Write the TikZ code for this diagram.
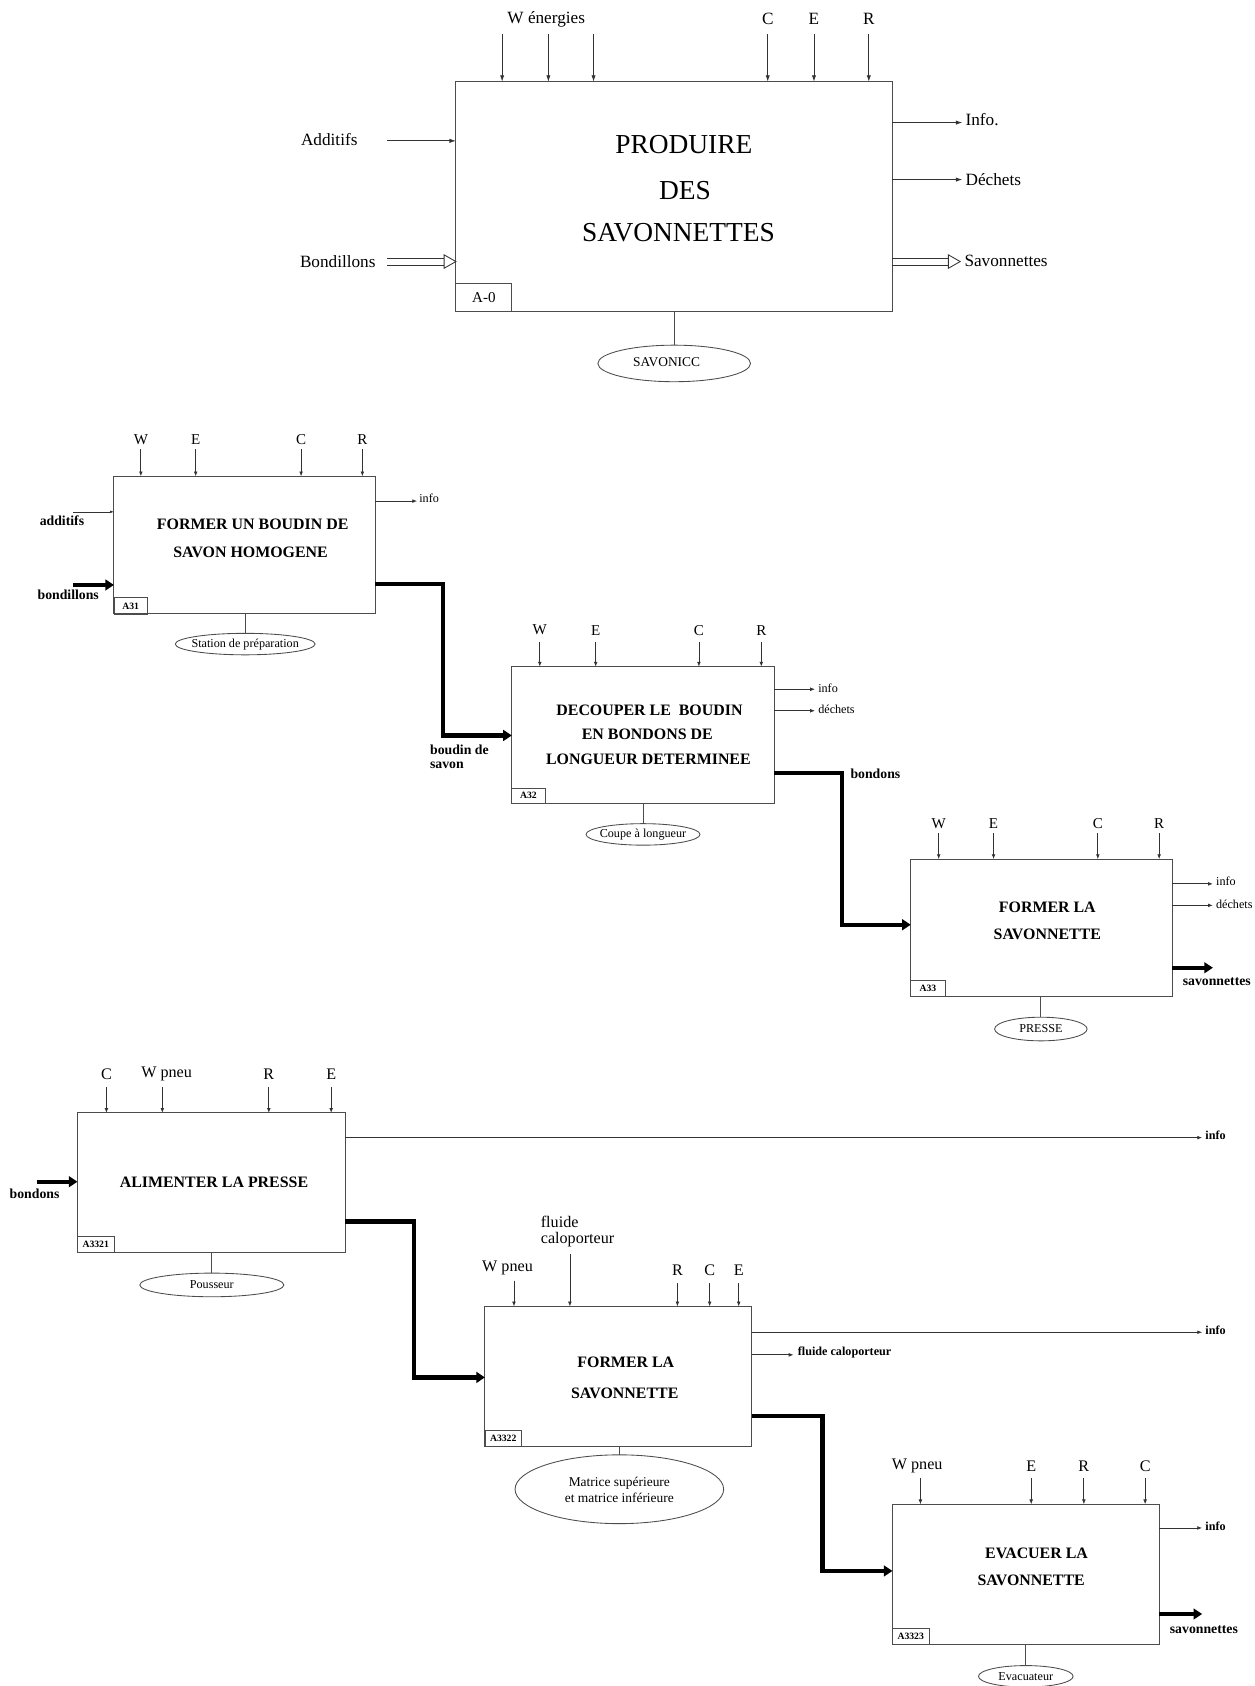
\documentclass[tikz,border=0pt]{standalone}
\usepackage{fontspec}
\setmainfont{Liberation Serif}
\usetikzlibrary{arrows.meta,shapes.geometric}
\begin{document}
\begin{tikzpicture}[x=1pt,y=-1pt,
  every node/.style={inner sep=0pt, outer sep=0pt},
  boxst/.style={draw=black!70, line width=0.9pt, anchor=north west},
  idbox/.style={draw=black!70, line width=0.8pt, anchor=south west},
  ell/.style={draw=black!70, line width=0.8pt, ellipse},
  thinarr/.style={draw=black!80, line width=0.8pt, -{Latex[length=6pt,width=4pt]}},
  smallarr/.style={draw=black!80, line width=0.7pt, -{Latex[length=4.5pt,width=3.5pt]}},
  thickarr/.style={line width=4pt, -{Triangle[length=8pt,width=10pt]}},
  mech/.style={draw=black!70, line width=0.8pt},
  hollowhead/.style={draw=black!80, line width=0.8pt, fill=white},
  f25/.style={font=\fontsize{25.5}{30}\selectfont},
  f16/.style={font=\fontsize{16}{19}\selectfont},
  f15/.style={font=\fontsize{15}{18}\selectfont},
  f14/.style={font=\fontsize{14}{17}\selectfont},
  f12/.style={font=\fontsize{12.5}{15}\selectfont},
  f11/.style={font=\fontsize{11.3}{13}\selectfont},
  b15/.style={font=\bfseries\fontsize{14.8}{18}\selectfont},
  b12/.style={font=\bfseries\fontsize{12.8}{15}\selectfont},
  b11/.style={font=\bfseries\fontsize{11.3}{13}\selectfont},
  bid/.style={font=\bfseries\fontsize{9}{10}\selectfont},
]
\path[use as bounding box] (0,0) rectangle (1167,1568);
\clip (0,0) rectangle (1167,1568);

% ================= Section 1 : A-0 =================
\node[boxst, minimum width=406pt, minimum height=214pt] (A0) at (424,76) {};
\node[idbox, minimum width=52pt, minimum height=26pt] (A0id) at (A0.south west) {};
\node[f14] (A0idt) at (A0id.center) {A-0};
\node[f25] (A0t1) at (636,134) {PRODUIRE};
\node[f25] (A0t2) at (637,177) {DES};
\node[f25] (A0t3) at (631,216) {SAVONNETTES};
\foreach \x in {467,510,552,714,757,808} \draw[thinarr] (\x,32) -- (\x,76);
\node[f16] (A0w) at (508,18) {W énergies};
\node[f16] (A0c) at (714,18) {C};
\node[f16] (A0e) at (757,18) {E};
\node[f16] (A0r) at (808,18) {R};
\node[f16, anchor=west] (A0add) at (280,130) {Additifs};
\draw[thinarr] (360,131) -- (424,131);
\node[f16, anchor=west] (A0bond) at (279,243) {Bondillons};
\draw[draw=black!80, line width=0.8pt] (360,240) -- (413,240) (360,246.5) -- (413,246.5);
\draw[hollowhead] (413,237) -- (424,243.25) -- (413,249.5) -- cycle;
\draw[thinarr] (830,114) -- (895,114);
\node[f16, anchor=west] (A0info) at (898,111) {Info.};
\draw[thinarr] (830,167) -- (895,167);
\node[f16, anchor=west] (A0dech) at (898,167) {Déchets};
\draw[draw=black!80, line width=0.8pt] (830,240) -- (882,240) (830,246.5) -- (882,246.5);
\draw[hollowhead] (882,237) -- (893,243.25) -- (882,249.5) -- cycle;
\node[f16, anchor=west] (A0sav) at (897,243) {Savonnettes};
\node[ell, minimum width=142pt, minimum height=34pt] (A0m) at (627,338) {};
\node[f12] (A0mt) at (620,337) {SAVONICC};
\draw[mech] (A0.south -| A0m.north) -- (A0m.north);

% ================= Section 2 : A31 =================
\node[boxst, minimum width=243pt, minimum height=128pt] (A31) at (106,443) {};
\node[idbox, minimum width=31pt, minimum height=15pt] (A31id) at (A31.south west) {};
\node[bid] at (A31id.center) {A31};
\node[b15] (A31t1) at (235,488) {FORMER UN BOUDIN DE};
\node[b15] (A31t2) at (233,514) {SAVON HOMOGENE};
\foreach \x/\l in {131/W,182/E,280/C,337/R} {
  \draw[smallarr] (\x,418) -- (\x,443);
  \node[f14] at (\x,409) {\l};
}
\draw[smallarr] (349,466) -- (388,466);
\node[f11, anchor=west] (A31info) at (390,463) {info};
\node[b12, anchor=west] (A31add) at (37,484) {additifs};
\draw[draw=black!80, line width=0.6pt, -{Latex[length=3.5pt,width=2.5pt]}] (68,476) -- (106,476);
\node[b12, anchor=west] (A31bond) at (35,553) {bondillons};
\draw[thickarr] (68,544) -- (106,544);
\node[ell, minimum width=130pt, minimum height=20pt] (A31m) at (228,599) {};
\node[f11] at (A31m.center) {Station de préparation};
\draw[mech] (A31.south -| A31m.north) -- (A31m.north);

% ================= A32 =================
\node[boxst, minimum width=244pt, minimum height=127pt] (A32) at (476,620) {};
\node[idbox, minimum width=31pt, minimum height=14pt] (A32id) at (A32.south west) {};
\node[bid] at (A32id.center) {A32};
\node[b15] (A32t1) at (604,661) {DECOUPER LE\ \ BOUDIN};
\node[b15] (A32t2) at (602,683) {EN BONDONS DE};
\node[b15] (A32t3) at (603,706) {LONGUEUR DETERMINEE};
\foreach \x/\l in {502/W,554/E,650/C,708/R} {
  \draw[smallarr] (\x,597) -- (\x,620);
  \node[f14] at (\x,586) {\l};
}
\draw[smallarr] (720,641) -- (758,641);
\node[f11, anchor=west] at (761,640) {info};
\draw[smallarr] (720,661) -- (758,661);
\node[f11, anchor=west] at (761,660) {déchets};
\draw[thickarr] (A31.east |- 0,543) -- (412,543) -- (412,684) -- (A32.west |- 0,684);
\node[b12, anchor=west] at (400,697) {boudin de};
\node[b12, anchor=west] at (400,712) {savon};
\node[ell, minimum width=106pt, minimum height=20pt] (A32m) at (598,776) {};
\node[f11] at (A32m.center) {Coupe à longueur};
\draw[mech] (A32.south -| A32m.north) -- (A32m.north);

% ================= A33 =================
\node[boxst, minimum width=243pt, minimum height=128pt] (A33) at (847,799) {};
\node[idbox, minimum width=32pt, minimum height=15pt] (A33id) at (A33.south west) {};
\node[bid] at (A33id.center) {A33};
\node[b15] at (974,844) {FORMER LA};
\node[b15] at (974,869) {SAVONNETTE};
\foreach \x/\l in {873/W,924/E,1021/C,1078/R} {
  \draw[smallarr] (\x,775) -- (\x,799);
  \node[f14] at (\x,766) {\l};
}
\draw[smallarr] (1090,822) -- (1128,822);
\node[f11, anchor=west] at (1131,820) {info};
\draw[smallarr] (1090,842) -- (1128,842);
\node[f11, anchor=west] at (1131,841) {déchets};
\draw[thickarr] (A32.east |- 0,719) -- (783,719) -- (783,860) -- (A33.west |- 0,860);
\node[b12, anchor=west] at (791,720) {bondons};
\draw[thickarr] (1090,900) -- (1128,900);
\node[b12, anchor=west] at (1100,913) {savonnettes};
\node[ell, minimum width=86pt, minimum height=22pt] (A33m) at (968,957) {};
\node[f11] at (A33m.center) {PRESSE};
\draw[mech] (A33.south -| A33m.north) -- (A33m.north);

% ================= Section 3 : A3321 =================
\node[boxst, minimum width=249pt, minimum height=130pt] (B1) at (72,1035) {};
\node[idbox, minimum width=34pt, minimum height=15pt] (B1id) at (B1.south west) {};
\node[bid] at (B1id.center) {A3321};
\node[b15] at (199,1100) {ALIMENTER LA PRESSE};
\foreach \x in {99,151,250,308} \draw[smallarr] (\x,1011) -- (\x,1035);
\node[f15] at (99,999) {C};
\node[f15] at (155,999) {W pneu};
\node[f15] at (250,999) {R};
\node[f15] at (308,999) {E};
\draw[thickarr] (34,1099) -- (72,1099);
\node[b12, anchor=west] at (9,1110) {bondons};
\draw[smallarr] (321,1058) -- (1118,1058);
\node[b11, anchor=west] at (1121,1056) {info};
\node[ell, minimum width=134pt, minimum height=22pt] (B1m) at (197,1195) {};
\node[f11] at (B1m.center) {Pousseur};
\draw[mech] (B1.south -| B1m.north) -- (B1m.north);

% ================= A3322 =================
\node[boxst, minimum width=248pt, minimum height=130pt] (B2) at (451,1215) {};
\node[idbox, minimum width=34pt, minimum height=15pt] (B2id) at (B2.south west) {};
\node[bid] at (B2id.center) {A3322};
\node[b15] at (582,1267) {FORMER LA};
\node[b15] at (581,1296) {SAVONNETTE};
\draw[smallarr] (478,1191) -- (478,1215);
\node[f15] at (472,1179) {W pneu};
\draw[smallarr] (530,1166) -- (530,1215);
\node[f15, anchor=west] at (503,1136) {fluide};
\node[f15, anchor=west] at (503,1153) {caloporteur};
\foreach \x/\l in {630/R,660/C,687/E} {
  \draw[smallarr] (\x,1193) -- (\x,1215);
  \node[f15] at (\x,1181) {\l};
}
\draw[smallarr] (699,1239) -- (1118,1239);
\node[b11, anchor=west] at (1121,1237) {info};
\draw[smallarr] (699,1260) -- (738,1260);
\node[b11, anchor=west] at (742,1258) {fluide caloporteur};
\draw[thickarr] (B1.east |- 0,1136) -- (385,1136) -- (385,1281) -- (B2.west |- 0,1281);
\node[ell, minimum width=194pt, minimum height=64pt] (B2m) at (576,1385) {};
\node[f12] at (576,1379) {Matrice supérieure};
\node[f12] at (576,1393) {et matrice inférieure};
\draw[mech] (B2.south -| B2m.north) -- (B2m.north);

% ================= A3323 =================
\node[boxst, minimum width=248pt, minimum height=130pt] (B3) at (830,1399) {};
\node[idbox, minimum width=34pt, minimum height=15pt] (B3id) at (B3.south west) {};
\node[bid] at (B3id.center) {A3323};
\node[b15] at (964,1445) {EVACUER LA};
\node[b15] at (959,1470) {SAVONNETTE};
\draw[smallarr] (856,1375) -- (856,1399);
\node[f15] at (853,1363) {W pneu};
\foreach \x/\l in {959/E,1008/R,1065/C} {
  \draw[smallarr] (\x,1375) -- (\x,1399);
  \node[f15] at (\x,1364) {\l};
}
\draw[smallarr] (1078,1421) -- (1118,1421);
\node[b11, anchor=west] at (1121,1419) {info};
\draw[thickarr] (B2.east |- 0,1317) -- (765,1317) -- (765,1461) -- (B3.west |- 0,1461);
\draw[thickarr] (1078,1501) -- (1118,1501);
\node[b12, anchor=west] at (1088,1516) {savonnettes};
\node[ell, minimum width=88pt, minimum height=20pt] (B3m) at (954,1559) {};
\node[f11] at (B3m.center) {Evacuateur};
\draw[mech] (B3.south -| B3m.north) -- (B3m.north);
\end{tikzpicture}
\end{document}
